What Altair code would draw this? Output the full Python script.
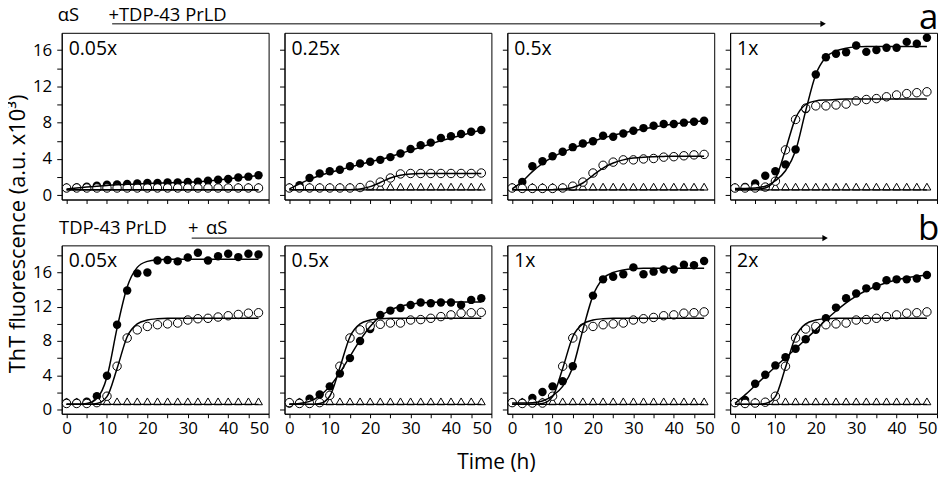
import altair as alt
import pandas as pd

# ---------------- data ----------------
TIME = [0, 2.5, 5, 7.5, 10, 12.5, 15, 17.5, 20, 22.5, 25, 27.5, 30, 32.5, 35, 37.5, 40, 42.5, 45, 47.5]

PANEL_IDS = ["a1", "a2", "a3", "a4", "b1", "b2", "b3", "b4"]
PANEL_LABELS = ["0.05x", "0.25x", "0.5x", "1x", "0.05x", "0.5x", "1x", "2x"]

X_TICKS = [0, 5, 10, 15, 20, 25, 30, 35, 40, 45, 50]
Y_TICKS = [0, 2, 4, 6, 8, 10, 12, 14, 16, 18]

# filled circles (mixture)
FILLED = {
    "a1": [0.8, 0.85, 0.95, 1.05, 1.15, 1.2, 1.25, 1.3, 1.35, 1.35, 1.4, 1.42, 1.45, 1.5, 1.6, 1.7, 1.8, 1.95, 2.05, 2.2],
    "a2": [0.8, 1.1, 1.9, 2.4, 2.65, 2.8, 3.2, 3.5, 3.7, 3.9, 4.2, 4.6, 5.1, 5.5, 5.8, 6.3, 6.5, 6.75, 7.0, 7.2],
    "a3": [0.8, 1.45, 3.2, 3.75, 4.3, 4.8, 5.3, 5.7, 5.95, 6.55, 6.45, 6.8, 7.1, 7.4, 7.65, 7.85, 7.85, 8.0, 8.1, 8.2],
    "a4": [0.8, 0.9, 1.3, 2.15, 2.65, 3.4, 5.05, 9.5, 13.3, 15.2, 15.6, 15.75, 16.5, 15.8, 16.0, 16.25, 16.25, 16.9, 16.7, 17.35],
    "b1": [0.8, 0.8, 0.9, 1.55, 3.95, 9.9, 13.9, 15.9, 16.0, 17.4, 17.45, 17.3, 17.75, 18.3, 17.4, 17.9, 18.2, 17.8, 18.2, 18.1],
    "b2": [0.7, 0.8, 1.25, 1.75, 2.7, 4.2, 6.0, 8.0, 9.4, 11.05, 11.55, 11.85, 12.2, 12.5, 12.4, 12.5, 12.5, 12.2, 12.8, 13.0],
    "b3": [0.8, 0.8, 1.35, 2.05, 2.7, 3.3, 5.05, 9.5, 13.3, 15.2, 15.5, 15.8, 16.6, 15.8, 16.1, 16.35, 16.35, 16.9, 16.85, 17.35],
    "b4": [0.8, 1.1, 3.0, 4.05, 5.15, 6.1, 7.1, 8.2, 9.3, 10.65, 11.9, 13.0, 13.55, 14.15, 14.4, 15.1, 15.2, 15.2, 15.3, 15.7],
}

# open circles
OPEN = {
    "a1": [0.8, 0.8, 0.8, 0.8, 0.8, 0.8, 0.8, 0.8, 0.8, 0.8, 0.8, 0.8, 0.8, 0.8, 0.8, 0.8, 0.8, 0.8, 0.8, 0.8],
    "a2": [0.8, 0.8, 0.8, 0.8, 0.8, 0.8, 0.8, 0.85, 1.1, 1.45, 1.9, 2.35, 2.4, 2.4, 2.4, 2.4, 2.4, 2.4, 2.4, 2.45],
    "a3": [0.8, 0.75, 0.75, 0.75, 0.75, 0.8, 1.0, 1.45, 2.45, 3.3, 3.65, 3.9, 3.9, 4.0, 4.05, 4.2, 4.25, 4.35, 4.45, 4.5],
    "a4": [0.8, 0.8, 0.8, 0.9, 1.55, 5.0, 8.35, 9.6, 9.85, 9.85, 9.95, 10.05, 10.4, 10.55, 10.65, 10.85, 11.05, 11.2, 11.3, 11.4],
    "b1": [0.7, 0.7, 0.7, 0.8, 1.55, 5.05, 8.35, 9.3, 9.7, 9.9, 10.0, 10.1, 10.45, 10.6, 10.65, 10.8, 10.95, 11.1, 11.25, 11.3],
    "b2": [0.8, 0.7, 0.7, 0.8, 1.65, 5.05, 8.35, 9.3, 9.75, 9.95, 10.1, 10.1, 10.45, 10.5, 10.65, 10.85, 11.05, 11.25, 11.3, 11.35],
    "b3": [0.8, 0.7, 0.75, 0.75, 1.55, 5.05, 8.35, 9.5, 9.7, 9.9, 10.0, 10.1, 10.45, 10.6, 10.75, 10.95, 11.05, 11.25, 11.3, 11.4],
    "b4": [0.8, 0.7, 0.75, 0.85, 1.55, 5.05, 8.35, 9.4, 9.7, 9.9, 10.0, 10.1, 10.45, 10.5, 10.65, 10.85, 11.05, 11.25, 11.3, 11.4],
}

# open triangles (control)
TRIANGLES = [0.95, 0.95, 0.95, 0.95, 0.95, 0.95, 0.95, 0.95, 0.95, 0.95, 0.95, 0.95, 0.95, 0.95, 0.95, 0.95, 0.95, 0.95, 0.95, 0.95]

# fitted curves, read at the same time points
FIT_FILLED = {
    "a1": [0.7, 0.8, 0.9, 1.0, 1.08, 1.15, 1.2, 1.25, 1.3, 1.33, 1.37, 1.4, 1.45, 1.5, 1.58, 1.68, 1.8, 1.93, 2.05, 2.2],
    "a2": [0.7, 1.25, 1.75, 2.15, 2.5, 2.8, 3.1, 3.4, 3.7, 3.95, 4.25, 4.6, 4.95, 5.3, 5.65, 6.0, 6.3, 6.6, 6.9, 7.2],
    "a3": [0.7, 1.5, 2.6, 3.5, 4.2, 4.75, 5.2, 5.6, 5.95, 6.3, 6.6, 6.85, 7.1, 7.3, 7.5, 7.7, 7.85, 8.0, 8.1, 8.2],
    "a4": [0.75, 0.75, 0.8, 1.0, 1.6, 2.7, 4.9, 9.3, 13.3, 15.2, 15.9, 16.2, 16.35, 16.4, 16.4, 16.4, 16.4, 16.4, 16.4, 16.4],
    "b1": [0.6, 0.6, 0.7, 1.3, 3.8, 9.5, 14.3, 16.6, 17.3, 17.5, 17.55, 17.55, 17.55, 17.55, 17.55, 17.55, 17.55, 17.55, 17.55, 17.55],
    "b2": [0.6, 0.7, 0.95, 1.6, 2.7, 4.3, 6.2, 8.1, 9.7, 10.9, 11.6, 12.05, 12.3, 12.45, 12.5, 12.55, 12.55, 12.55, 12.55, 12.55],
    "b3": [0.75, 0.75, 0.8, 1.0, 1.6, 2.7, 4.9, 9.3, 13.3, 15.3, 16.0, 16.3, 16.45, 16.5, 16.5, 16.5, 16.5, 16.5, 16.5, 16.5],
    "b4": [0.7, 1.7, 2.8, 3.9, 5.0, 6.05, 7.1, 8.2, 9.3, 10.45, 11.5, 12.45, 13.25, 13.9, 14.4, 14.8, 15.15, 15.4, 15.55, 15.7],
}

FIT_OPEN = {
    "a1": [0.6, 0.6, 0.6, 0.6, 0.6, 0.6, 0.6, 0.6, 0.6, 0.6, 0.6, 0.6, 0.6, 0.6, 0.6, 0.6, 0.6, 0.6, 0.6, 0.6],
    "a2": [0.6, 0.6, 0.6, 0.6, 0.6, 0.6, 0.62, 0.7, 0.95, 1.4, 1.9, 2.2, 2.35, 2.4, 2.4, 2.4, 2.4, 2.4, 2.4, 2.4],
    "a3": [0.6, 0.6, 0.6, 0.6, 0.62, 0.68, 0.85, 1.35, 2.2, 3.0, 3.55, 3.9, 4.1, 4.2, 4.25, 4.28, 4.3, 4.3, 4.3, 4.3],
    "a4": [0.6, 0.6, 0.65, 0.8, 1.8, 5.0, 8.5, 10.0, 10.4, 10.5, 10.55, 10.6, 10.6, 10.6, 10.6, 10.6, 10.6, 10.6, 10.6, 10.6],
    "b1": [0.6, 0.6, 0.6, 0.7, 1.5, 4.8, 8.5, 10.0, 10.45, 10.6, 10.65, 10.65, 10.65, 10.65, 10.65, 10.65, 10.65, 10.65, 10.65, 10.65],
    "b2": [0.6, 0.6, 0.6, 0.7, 1.55, 4.9, 8.5, 10.0, 10.45, 10.6, 10.65, 10.65, 10.65, 10.65, 10.65, 10.65, 10.65, 10.65, 10.65, 10.65],
    "b3": [0.6, 0.6, 0.6, 0.7, 1.5, 4.8, 8.5, 10.0, 10.45, 10.6, 10.65, 10.65, 10.65, 10.65, 10.65, 10.65, 10.65, 10.65, 10.65, 10.65],
    "b4": [0.6, 0.6, 0.6, 0.7, 1.5, 4.9, 8.5, 10.0, 10.45, 10.6, 10.65, 10.65, 10.65, 10.65, 10.65, 10.65, 10.65, 10.65, 10.65, 10.65],
}

FIT_TRIANGLES = [0.6, 0.6, 0.6, 0.6, 0.6, 0.6, 0.6, 0.6, 0.6, 0.6, 0.6, 0.6, 0.6, 0.6, 0.6, 0.6, 0.6, 0.6, 0.6, 0.6]

FONT = "Open Sans"
PANEL_W = 208
ROW_H = [167.6, 169.3]
Y_DOMAIN = [[-0.47, 17.9], [-0.5, 19.17]]
X_DOMAIN = [-1.2, 50]
HEAD = 18.5

ONE = pd.DataFrame({"k": [0]})


def text_layer(txt, x, y, size, align="left", baseline="middle", angle=0):
    kw = dict(text=txt, align=align, baseline=baseline, fontSize=size, font=FONT, color="black")
    if angle:
        kw["angle"] = angle
    return alt.Chart(ONE).mark_text(**kw).encode(x=alt.value(x), y=alt.value(y))


def make_panel(i):
    pid = PANEL_IDS[i]
    row, col = divmod(i, 4)
    pts = pd.DataFrame({"t": TIME, "filled": FILLED[pid], "open": OPEN[pid], "tri": TRIANGLES})
    fit = pd.DataFrame({"t": TIME, "f": FIT_FILLED[pid], "o": FIT_OPEN[pid], "r": FIT_TRIANGLES})

    x_axis = alt.Axis(values=X_TICKS, labels=(row == 1),
                      labelExpr="datum.value % 10 === 0 ? datum.label : ''", title=None)
    y_axis = alt.Axis(values=Y_TICKS, labels=(col == 0),
                      labelExpr="datum.value % 4 === 0 ? datum.label : ''", title=None)
    xs = alt.Scale(domain=X_DOMAIN, nice=False, zero=False)
    ys = alt.Scale(domain=Y_DOMAIN[row], nice=False, zero=False)

    def X():
        return alt.X("t:Q", scale=xs, axis=x_axis)

    def Y(field):
        return alt.Y(f"{field}:Q", scale=ys, axis=y_axis)

    base_p = alt.Chart(pts)
    base_f = alt.Chart(fit)
    filled = base_p.mark_circle(size=72, color="black", opacity=1).encode(x=X(), y=Y("filled"))
    tri = base_p.mark_point(shape="triangle-up", filled=True, fill="white", stroke="black",
                            strokeWidth=1, size=62, opacity=1).encode(x=X(), y=Y("tri"))
    opn = base_p.mark_point(shape="circle", filled=True, fill="white", stroke="black",
                            strokeWidth=1, size=72, opacity=1).encode(x=X(), y=Y("open"))
    l_r = base_f.mark_line(color="black", strokeWidth=1.3, interpolate="monotone").encode(x=X(), y=Y("r"))
    l_o = base_f.mark_line(color="black", strokeWidth=1.5, interpolate="monotone").encode(x=X(), y=Y("o"))
    l_f = base_f.mark_line(color="black", strokeWidth=1.5, interpolate="monotone").encode(x=X(), y=Y("f"))

    layers = [filled, tri, opn, l_r, l_o, l_f,
              text_layer(PANEL_LABELS[i], 7, 16, 19.5)]

    if pid == "a1":
        # invisible anchor fixing the top-left of the drawing
        layers.append(alt.Chart(ONE).mark_square(size=4, color="white", opacity=1)
                      .encode(x=alt.value(-61), y=alt.value(-50)))
        layers.append(text_layer("αS", -4, -18, HEAD))
        layers.append(text_layer("+", 47, -18, HEAD))
        layers.append(text_layer("TDP-43 PrLD", 57.5, -18, HEAD))
        layers.append(alt.Chart(ONE).mark_rule(color="black", strokeWidth=1)
                      .encode(x=alt.value(50.7), x2=alt.value(765), y=alt.value(-9)))
        layers.append(alt.Chart(ONE).mark_point(shape="triangle-right", filled=True, color="black",
                                                size=40, opacity=1)
                      .encode(x=alt.value(765.5), y=alt.value(-9)))
    if pid == "b1":
        layers.append(text_layer("TDP-43 PrLD", -2.7, -17.3, HEAD))
        layers.append(text_layer("+", 127, -17.3, HEAD))
        layers.append(text_layer("αS", 145, -17.3, HEAD))
        layers.append(alt.Chart(ONE).mark_rule(color="black", strokeWidth=1)
                      .encode(x=alt.value(130.7), x2=alt.value(767), y=alt.value(-7.3)))
        layers.append(alt.Chart(ONE).mark_point(shape="triangle-right", filled=True, color="black",
                                                size=40, opacity=1)
                      .encode(x=alt.value(767.5), y=alt.value(-7.3)))
        layers.append(text_layer("ThT fluorescence (a.u. x10³)", -44.3, -11.5, 22,
                                 align="center", angle=270))
        layers.append(text_layer("Time (h)", 437, 219, 21, align="center"))
    if pid == "a4":
        layers.append(text_layer("a", 199.5, -4, 35, align="center", baseline="alphabetic"))
    if pid == "b4":
        layers.append(text_layer("b", 199.5, -5, 35, align="center", baseline="alphabetic"))

    return alt.layer(*layers).properties(width=PANEL_W, height=ROW_H[row])


panels = [make_panel(i) for i in range(8)]

chart = (
    alt.concat(*panels, columns=4, spacing={"row": 45.7, "column": 16}, bounds="flush")
    .properties(padding={"left": -9, "top": -28.3, "right": 0, "bottom": -2})
    .configure_axis(domainColor="black", tickColor="black", labelColor="black",
                    labelFont=FONT, labelFontSize=17, grid=False, domainWidth=1, tickWidth=1)
    .configure_axisX(tickSize=4, labelPadding=3)
    .configure_axisY(tickSize=5, labelPadding=5)
    .configure_view(stroke="black", strokeWidth=1)
)

chart.save("out.html", embed_options={"renderer": "svg", "actions": False})
